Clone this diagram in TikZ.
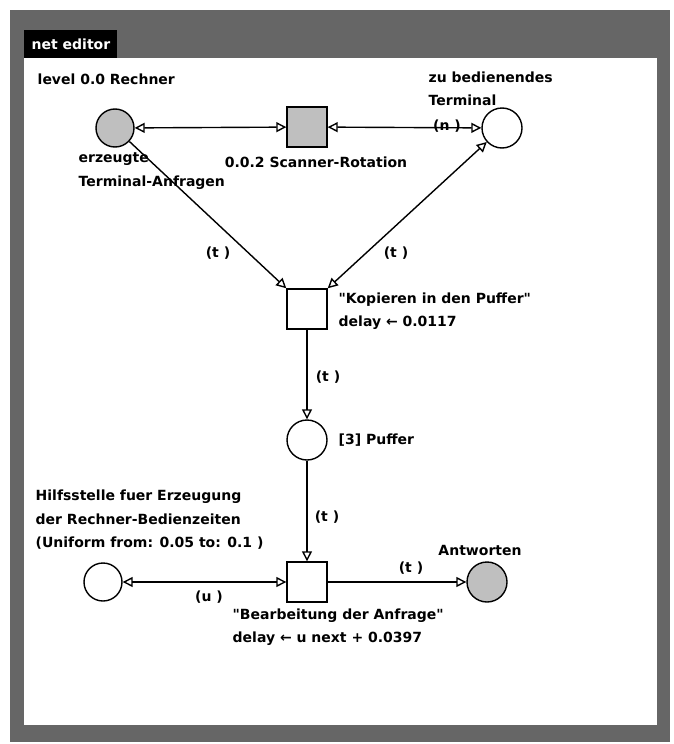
\documentclass[tikz,border=0pt]{standalone}
\usepackage{fontspec}
\setmainfont{DejaVu Sans}
\usetikzlibrary{arrows.meta,positioning}
\begin{document}
\begin{tikzpicture}[x=1pt,y=-1pt,>={Triangle[open,length=10pt,width=10pt]},line width=1.4pt,
 every node/.style={font=\fontsize{14}{23.5}\selectfont\bfseries,inner sep=0pt},
 place/.style={draw,circle,minimum size=38pt},
 trans/.style={draw,rectangle,minimum size=40pt},
 marked/.style={fill=black!25},
 lbl/.style={anchor=west,align=left}]
\useasboundingbox (0,0) rectangle (674,744);
\fill[black!60] (10,10) rectangle (670,742);
\fill[white] (24,58) rectangle (657,725);
\fill[black] (24,30) rectangle (117,58);
\node[lbl,white] (title) at (31,44) {net editor};
\node[lbl] (level) at (37,79) {level 0.0 Rechner};
\node[place,marked] (erz) at (115,128) {};
\node[trans,marked] (scan) at (307,127) {};
\node[place,minimum size=40pt] (term) at (502,128) {};
\node[trans] (kop) at (307,309) {};
\node[place,minimum size=40pt] (puf) at (307,440) {};
\node[trans] (bea) at (307,582) {};
\node[place] (hilf) at (103,582) {};
\node[place,marked,minimum size=40pt] (antw) at (487,582) {};
\node[below=8pt of scan,xshift=9pt] (scanlbl) {0.0.2 Scanner-Rotation};
\node[lbl] (erzlbl) at (78,171) {erzeugte\\Terminal-Anfragen};
\node[lbl] (termlbl) at (428,89) {zu bedienendes\\Terminal};
\node[lbl] (koplbl) at (338,311) {\textquotedbl Kopieren in den Puffer\textquotedbl\\delay ← 0.0117};
\node[lbl] (puflbl) at (338,440) {[3] Puffer};
\node[lbl] (hilflbl) at (35,520) {Hilfsstelle fuer Erzeugung\\der Rechner-Bedienzeiten\\(Uniform from: 0.05 to: 0.1 )};
\node[lbl] (bealbl) at (232,627) {\textquotedbl Bearbeitung der Anfrage\textquotedbl\\delay ← u next + 0.0397};
\node (antwlbl) at (480,550) {Antworten};
\draw[<->] (erz) -- (scan);
\draw[<->] (scan) -- (term);
\draw[->] (erz) -- (kop.north west);
\draw[<->] (kop.north east) -- (term);
\draw[->] (kop) -- (puf);
\draw[->] (puf) -- (bea);
\draw[<->] (hilf) -- (bea);
\draw[->] (bea) -- (antw);
\node (n) at (447,126) {(n )};
\node (t1) at (218,253) {(t )};
\node (t2) at (396,253) {(t )};
\node (t3) at (328,377) {(t )};
\node (t4) at (327,517) {(t )};
\node (u) at (209,597) {(u )};
\node (t5) at (411,568) {(t )};
\end{tikzpicture}
\end{document}
